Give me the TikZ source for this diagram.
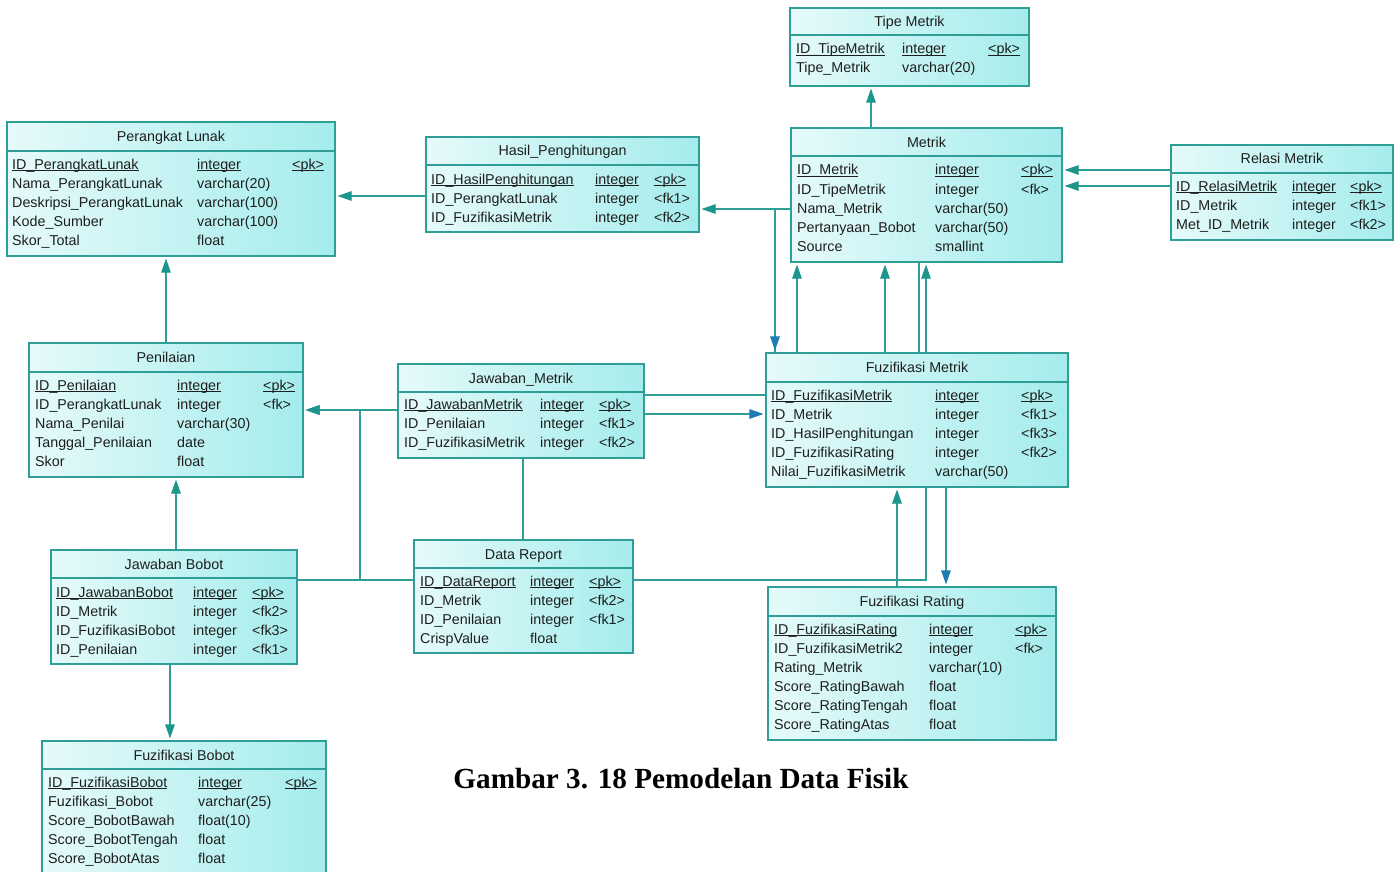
\documentclass[tikz,border=0pt]{standalone}
\usepackage{fontspec}
\setmainfont{Liberation Sans}
\newfontfamily\capfont{Liberation Serif}
\usetikzlibrary{arrows.meta,backgrounds}

\definecolor{edgeteal}{RGB}{46,158,150}
\definecolor{tipteal}{RGB}{28,150,140}
\definecolor{tipblue}{RGB}{30,122,178}
\definecolor{fillhi}{RGB}{230,250,250}
\definecolor{filllo}{RGB}{165,236,236}
\definecolor{ink}{RGB}{30,30,30}

% key columns are underlined close to the baseline
\newsavebox{\keybox}
\newcommand{\keyline}[1]{\sbox{\keybox}{#1}\rlap{\rule[-2.3pt]{\wd\keybox}{0.9pt}}\usebox{\keybox}}

\tikzset{
  ertable/.style={rectangle, draw=edgeteal, line width=1.1pt, inner sep=0pt,
    left color=fillhi, right color=filllo},
  rule/.style={draw=edgeteal, line width=1.1pt},
  cell/.style={anchor=base west, inner sep=0pt, text=ink,
    font=\fontsize{14.3}{17}\selectfont},
  ttl/.style={anchor=base, inner sep=0pt, text=ink,
    font=\fontsize{14.3}{17}\selectfont},
  link/.style={draw=edgeteal, line width=1.1pt},
  fk/.style={link, shorten >=2pt, -{Triangle[length=14pt,width=9.5pt,color=tipteal]}},
  fkblue/.style={link, shorten >=2pt, -{Triangle[length=14pt,width=9.5pt,color=tipblue]}},
  captionfont/.style={inner sep=0pt, font=\capfont\bfseries\fontsize{29.2}{34}\selectfont}
}

% table: name, left, top, right, bottom, header rule, title
\newcommand{\ertab}[7]{%
  \node[ertable, minimum width={#4-#2}, minimum height={#5-#3}] (#1) at ({(#2+#4)/2},{(#3+#5)/2}) {};
  \draw[rule] (#2,#6) -- (#4,#6);
  \node[ttl] (#1-title) at ({(#2+#4)/2},{(#3+#6)/2+5}) {#7};
}
% field text: name, x, row centre y, text
\newcommand{\erf}[4]{\node[cell] (#1) at (#2,{#3+5}) {#4};}

\begin{document}
\begin{tikzpicture}[x=1pt,y=-1pt]
\clip (0,0) rectangle (1395,872);

% ---------- tables ----------
\ertab{tm}{790}{8}{1029}{86}{35}{Tipe Metrik}
\erf{tm-1a}{796}{49}{\keyline{ID\_TipeMetrik}}
\erf{tm-1b}{902}{49}{\keyline{integer}}
\erf{tm-1c}{988}{49}{\keyline{<pk>}}
\erf{tm-2a}{796}{68}{Tipe\_Metrik}
\erf{tm-2b}{902}{68}{varchar(20)}

\ertab{mt}{791}{128}{1062}{262}{156}{Metrik}
\erf{mt-1a}{797}{170}{\keyline{ID\_Metrik}}
\erf{mt-1b}{935}{170}{\keyline{integer}}
\erf{mt-1c}{1021}{170}{\keyline{<pk>}}
\erf{mt-2a}{797}{189}{ID\_TipeMetrik}
\erf{mt-2b}{935}{189}{integer}
\erf{mt-2c}{1021}{189}{<fk>}
\erf{mt-3a}{797}{208}{Nama\_Metrik}
\erf{mt-3b}{935}{208}{varchar(50)}
\erf{mt-4a}{797}{227}{Pertanyaan\_Bobot}
\erf{mt-4b}{935}{227}{varchar(50)}
\erf{mt-5a}{797}{246}{Source}
\erf{mt-5b}{935}{246}{smallint}

\ertab{rm}{1171}{145}{1393}{240}{173}{Relasi Metrik}
\erf{rm-1a}{1176}{186}{\keyline{ID\_RelasiMetrik}}
\erf{rm-1b}{1292}{186}{\keyline{integer}}
\erf{rm-1c}{1350}{186}{\keyline{<pk>}}
\erf{rm-2a}{1176}{205}{ID\_Metrik}
\erf{rm-2b}{1292}{205}{integer}
\erf{rm-2c}{1350}{205}{<fk1>}
\erf{rm-3a}{1176}{224}{Met\_ID\_Metrik}
\erf{rm-3b}{1292}{224}{integer}
\erf{rm-3c}{1350}{224}{<fk2>}

\ertab{pl}{7}{122}{335}{256}{151}{Perangkat Lunak}
\erf{pl-1a}{12}{164}{\keyline{ID\_PerangkatLunak}}
\erf{pl-1b}{197}{164}{\keyline{integer}}
\erf{pl-1c}{292}{164}{\keyline{<pk>}}
\erf{pl-2a}{12}{183}{Nama\_PerangkatLunak}
\erf{pl-2b}{197}{183}{varchar(20)}
\erf{pl-3a}{12}{202}{Deskripsi\_PerangkatLunak}
\erf{pl-3b}{197}{202}{varchar(100)}
\erf{pl-4a}{12}{221}{Kode\_Sumber}
\erf{pl-4b}{197}{221}{varchar(100)}
\erf{pl-5a}{12}{240}{Skor\_Total}
\erf{pl-5b}{197}{240}{float}

\ertab{hp}{426}{137}{699}{232}{165}{Hasil\_Penghitungan}
\erf{hp-1a}{431}{179}{\keyline{ID\_HasilPenghitungan}}
\erf{hp-1b}{595}{179}{\keyline{integer}}
\erf{hp-1c}{654}{179}{\keyline{<pk>}}
\erf{hp-2a}{431}{198}{ID\_PerangkatLunak}
\erf{hp-2b}{595}{198}{integer}
\erf{hp-2c}{654}{198}{<fk1>}
\erf{hp-3a}{431}{217}{ID\_FuzifikasiMetrik}
\erf{hp-3b}{595}{217}{integer}
\erf{hp-3c}{654}{217}{<fk2>}

\ertab{pen}{29}{343}{303}{477}{372}{Penilaian}
\erf{pen-1a}{35}{385}{\keyline{ID\_Penilaian}}
\erf{pen-1b}{177}{385}{\keyline{integer}}
\erf{pen-1c}{263}{385}{\keyline{<pk>}}
\erf{pen-2a}{35}{404}{ID\_PerangkatLunak}
\erf{pen-2b}{177}{404}{integer}
\erf{pen-2c}{263}{404}{<fk>}
\erf{pen-3a}{35}{423}{Nama\_Penilai}
\erf{pen-3b}{177}{423}{varchar(30)}
\erf{pen-4a}{35}{442}{Tanggal\_Penilaian}
\erf{pen-4b}{177}{442}{date}
\erf{pen-5a}{35}{461}{Skor}
\erf{pen-5b}{177}{461}{float}

\ertab{jm}{398}{364}{644}{458}{392}{Jawaban\_Metrik}
\erf{jm-1a}{404}{404}{\keyline{ID\_JawabanMetrik}}
\erf{jm-1b}{540}{404}{\keyline{integer}}
\erf{jm-1c}{599}{404}{\keyline{<pk>}}
\erf{jm-2a}{404}{423}{ID\_Penilaian}
\erf{jm-2b}{540}{423}{integer}
\erf{jm-2c}{599}{423}{<fk1>}
\erf{jm-3a}{404}{442}{ID\_FuzifikasiMetrik}
\erf{jm-3b}{540}{442}{integer}
\erf{jm-3c}{599}{442}{<fk2>}

\ertab{fm}{766}{353}{1068}{487}{382}{Fuzifikasi Metrik}
\erf{fm-1a}{771}{395}{\keyline{ID\_FuzifikasiMetrik}}
\erf{fm-1b}{935}{395}{\keyline{integer}}
\erf{fm-1c}{1021}{395}{\keyline{<pk>}}
\erf{fm-2a}{771}{414}{ID\_Metrik}
\erf{fm-2b}{935}{414}{integer}
\erf{fm-2c}{1021}{414}{<fk1>}
\erf{fm-3a}{771}{433}{ID\_HasilPenghitungan}
\erf{fm-3b}{935}{433}{integer}
\erf{fm-3c}{1021}{433}{<fk3>}
\erf{fm-4a}{771}{452}{ID\_FuzifikasiRating}
\erf{fm-4b}{935}{452}{integer}
\erf{fm-4c}{1021}{452}{<fk2>}
\erf{fm-5a}{771}{471}{Nilai\_FuzifikasiMetrik}
\erf{fm-5b}{935}{471}{varchar(50)}

\ertab{jb}{51}{550}{297}{664}{578}{Jawaban Bobot}
\erf{jb-1a}{56}{592}{\keyline{ID\_JawabanBobot}}
\erf{jb-1b}{193}{592}{\keyline{integer}}
\erf{jb-1c}{252}{592}{\keyline{<pk>}}
\erf{jb-2a}{56}{611}{ID\_Metrik}
\erf{jb-2b}{193}{611}{integer}
\erf{jb-2c}{252}{611}{<fk2>}
\erf{jb-3a}{56}{630}{ID\_FuzifikasiBobot}
\erf{jb-3b}{193}{630}{integer}
\erf{jb-3c}{252}{630}{<fk3>}
\erf{jb-4a}{56}{649}{ID\_Penilaian}
\erf{jb-4b}{193}{649}{integer}
\erf{jb-4c}{252}{649}{<fk1>}

\ertab{dr}{414}{540}{633}{653}{568}{Data Report}
\erf{dr-1a}{420}{581}{\keyline{ID\_DataReport}}
\erf{dr-1b}{530}{581}{\keyline{integer}}
\erf{dr-1c}{589}{581}{\keyline{<pk>}}
\erf{dr-2a}{420}{600}{ID\_Metrik}
\erf{dr-2b}{530}{600}{integer}
\erf{dr-2c}{589}{600}{<fk2>}
\erf{dr-3a}{420}{619}{ID\_Penilaian}
\erf{dr-3b}{530}{619}{integer}
\erf{dr-3c}{589}{619}{<fk1>}
\erf{dr-4a}{420}{638}{CrispValue}
\erf{dr-4b}{530}{638}{float}

\ertab{fr}{768}{587}{1056}{740}{616}{Fuzifikasi Rating}
\erf{fr-1a}{774}{629}{\keyline{ID\_FuzifikasiRating}}
\erf{fr-1b}{929}{629}{\keyline{integer}}
\erf{fr-1c}{1015}{629}{\keyline{<pk>}}
\erf{fr-2a}{774}{648}{ID\_FuzifikasiMetrik2}
\erf{fr-2b}{929}{648}{integer}
\erf{fr-2c}{1015}{648}{<fk>}
\erf{fr-3a}{774}{667}{Rating\_Metrik}
\erf{fr-3b}{929}{667}{varchar(10)}
\erf{fr-4a}{774}{686}{Score\_RatingBawah}
\erf{fr-4b}{929}{686}{float}
\erf{fr-5a}{774}{705}{Score\_RatingTengah}
\erf{fr-5b}{929}{705}{float}
\erf{fr-6a}{774}{724}{Score\_RatingAtas}
\erf{fr-6b}{929}{724}{float}

\ertab{fb}{42}{741}{326}{882}{769}{Fuzifikasi Bobot}
\erf{fb-1a}{48}{782}{\keyline{ID\_FuzifikasiBobot}}
\erf{fb-1b}{198}{782}{\keyline{integer}}
\erf{fb-1c}{285}{782}{\keyline{<pk>}}
\erf{fb-2a}{48}{801}{Fuzifikasi\_Bobot}
\erf{fb-2b}{198}{801}{varchar(25)}
\erf{fb-3a}{48}{820}{Score\_BobotBawah}
\erf{fb-3b}{198}{820}{float(10)}
\erf{fb-4a}{48}{839}{Score\_BobotTengah}
\erf{fb-4b}{198}{839}{float}
\erf{fb-5a}{48}{858}{Score\_BobotAtas}
\erf{fb-5b}{198}{858}{float}

% ---------- caption ----------
\node[captionfont, anchor=base] (cap) at (681,788) {Gambar 3. 18 Pemodelan Data Fisik};

% ---------- routing levels ----------
\coordinate (x166) at (166,0);
\coordinate (x170) at (170,0);
\coordinate (x176) at (176,0);
\coordinate (x360) at (360,0);
\coordinate (x523) at (523,0);
\coordinate (x775) at (775,0);
\coordinate (x797) at (797,0);
\coordinate (x871) at (871,0);
\coordinate (x885) at (885,0);
\coordinate (x897) at (897,0);
\coordinate (x919) at (919,0);
\coordinate (x926) at (926,0);
\coordinate (x946) at (946,0);
\coordinate (y170) at (0,170);
\coordinate (y186) at (0,186);
\coordinate (y196) at (0,196);
\coordinate (y209) at (0,209);
\coordinate (y395) at (0,395);
\coordinate (y410) at (0,410);
\coordinate (y414) at (0,414);
\coordinate (y580) at (0,580);

% ---------- references (behind the tables) ----------
\begin{pgfonlayer}{background}
\fill[white] (0,0) rectangle (1395,872);
\draw[fk] (mt.north -| x871) -- (tm.south -| x871);
\draw[fk] (hp.west |- y196) -- (pl.east |- y196);
\draw[fk] (fm.north -| x775) |- (hp.east |- y209);
\draw[fkblue] (mt.west |- y209) -| (fm.north -| x775);
\draw[fk] (fm.north -| x797) -- (mt.south -| x797);
\draw[fk] (fm.north -| x885) -- (mt.south -| x885);
\draw[link] (mt.south -| x919) -- (fm.north -| x919);
\draw[fk] (fr.north -| x897) -- (fm.south -| x897);
\draw[fkblue] (fm.south -| x946) -- (fr.north -| x946);
\draw[fk] (jb.east |- y580) -| (mt.south -| x926);
\draw[fk] (dr.west |- y580) -| (x360 |- y410) -- (pen.east |- y410);
\draw[fk] (jm.west |- y410) -- (pen.east |- y410);
\draw[fkblue] (jm.east |- y414) -- (fm.west |- y414);
\draw[link] (jm.east |- y395) -- (fm.west |- y395);
\draw[link] (jm.south -| x523) -- (dr.north -| x523);
\draw[fk] (pen.north -| x166) -- (pl.south -| x166);
\draw[fk] (jb.north -| x176) -- (pen.south -| x176);
\draw[fk] (jb.south -| x170) -- (fb.north -| x170);
\draw[fk] (rm.west |- y170) -- (mt.east |- y170);
\draw[fk] (rm.west |- y186) -- (mt.east |- y186);
\end{pgfonlayer}
\end{tikzpicture}
\end{document}
